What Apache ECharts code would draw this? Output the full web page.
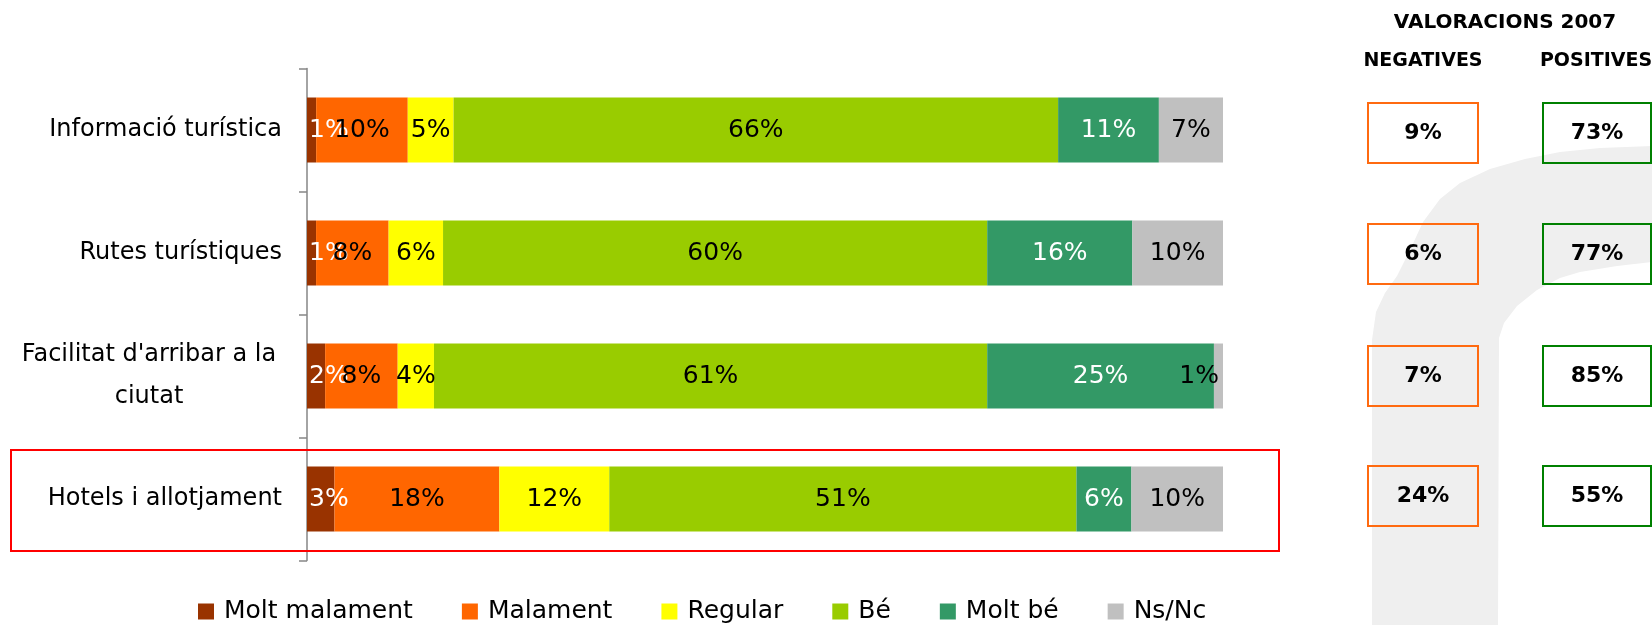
<!DOCTYPE html>
<html><head><meta charset="utf-8">
<script src="https://cdn.jsdelivr.net/npm/echarts@6/dist/echarts.min.js"></script>
<style>html,body{margin:0;padding:0;background:#fff}#c{width:1652px;height:625px}</style>
</head><body><div id="c"></div>
<script>
// ---- data ----
const categories = ["Informació turística", "Rutes turístiques", "Facilitat d'arribar a la\nciutat", "Hotels i allotjament"];
const seriesNames = ["Molt malament", "Malament", "Regular", "Bé", "Molt bé", "Ns/Nc"];
const moltMalament = [1, 1, 2, 3];
const malament = [10, 8, 8, 18];
const regular = [5, 6, 4, 12];
const be = [66, 60, 61, 51];
const moltBe = [11, 16, 25, 6];
const nsNc = [7, 10, 1, 10];
const negatives = [9, 6, 7, 24];
const positives = [73, 77, 85, 55];
const panelTitle = "VALORACIONS 2007";
const negTitle = "NEGATIVES";
const posTitle = "POSITIVES";
const highlighted = "Hotels i allotjament";

// ---- styling ----
const FONT = '"DejaVu Sans", "Noto Sans", sans-serif';
const colors = ["#993300", "#FF6600", "#FFFF00", "#99CC00", "#339966", "#C0C0C0"];
const labelColors = ["#fff", "#000", "#000", "#000", "#fff", "#000"];
const raw = [moltMalament, malament, regular, be, moltBe, nsNc];
const totals = categories.map((_, i) => raw.reduce((s, arr) => s + arr[i], 0));

const series = raw.map((arr, si) => ({
  name: seriesNames[si],
  type: 'bar',
  stack: 'total',
  barWidth: 65,
  itemStyle: { color: colors[si] },
  label: {
    show: true,
    position: si === 0 ? 'insideLeft' : 'inside',
    distance: 2,
    color: labelColors[si],
    fontFamily: FONT,
    fontSize: 25,
    formatter: p => raw[p.seriesIndex][p.dataIndex] + '%'
  },
  data: arr.map((v, i) => {
    const share = v / totals[i] * 100;
    const item = { value: share };
    if (si === raw.length - 1 && share < 3) {
      item.label = { position: 'insideRight', distance: 4 };
    }
    return item;
  })
}));

const chart = echarts.init(document.getElementById('c'), null, { renderer: 'canvas' });
chart.setOption({
  animation: false,
  textStyle: { fontFamily: FONT },
  grid: { left: 307, right: 429, top: 68.5, bottom: 64.5, containLabel: false },
  xAxis: { type: 'value', min: 0, max: 100, show: false },
  yAxis: {
    type: 'category',
    inverse: true,
    data: categories,
    axisLine: { show: true, lineStyle: { color: '#868686', width: 1.5 } },
    axisTick: { show: true, length: 8, lineStyle: { color: '#868686', width: 1.5 } },
    axisLabel: {
      margin: 25,
      color: '#000',
      fontFamily: FONT,
      fontSize: 24,
      formatter: v => v.indexOf('\n') >= 0 ? v.split('\n').map(s => '{c|' + s + '}').join('\n') : v,
      rich: { c: { width: 266, align: 'center', fontFamily: FONT, fontSize: 24, lineHeight: 42, color: '#000' } }
    }
  },
  legend: {
    data: seriesNames,
    left: 193,
    top: 594,
    icon: 'rect',
    itemWidth: 16,
    itemHeight: 16,
    itemGap: 49,
    textStyle: { fontFamily: FONT, fontSize: 25, color: '#000', padding: [0, 0, 0, 5] }
  },
  series: series
});

// ---- watermark shape (decorative background) ----
const wm = [
  [1372, 625], [1372, 340], [1376, 312], [1385, 293], [1397, 276], [1410, 250], [1423, 222],
  [1440, 199], [1460, 183], [1490, 169], [1525, 159], [1560, 152], [1600, 148], [1652, 146],
  [1652, 262], [1617, 266], [1580, 272], [1560, 278], [1537, 290], [1517, 306], [1504, 323],
  [1499, 338], [1498, 625]
];

// ---- side panel & annotations ----
const graphics = [];
graphics.push({ type: 'polygon', z: -10, silent: true, shape: { points: wm }, style: { fill: '#EFEFEF' } });
const boldFont = 'bold 20px ' + FONT;
graphics.push({ type: 'text', x: 1505, y: 23, style: { text: panelTitle, font: boldFont, fill: '#000', align: 'center', verticalAlign: 'middle' } });
graphics.push({ type: 'text', x: 1423, y: 61, style: { text: negTitle, font: 'bold 19px ' + FONT, fill: '#000', align: 'center', verticalAlign: 'middle' } });
graphics.push({ type: 'text', x: 1596, y: 61, style: { text: posTitle, font: 'bold 19px ' + FONT, fill: '#000', align: 'center', verticalAlign: 'middle' } });

const boxShift = [3, 1, 0, -3];
categories.forEach((c, i) => {
  const cy = chart.convertToPixel({ yAxisIndex: 0 }, c) + boxShift[i];
  graphics.push({ type: 'rect', shape: { x: 1368, y: cy - 30, width: 110, height: 60 }, style: { fill: 'none', stroke: '#FF6A10', lineWidth: 2 } });
  graphics.push({ type: 'text', x: 1423, y: cy, style: { text: negatives[i] + '%', font: 'bold 22px ' + FONT, fill: '#000', align: 'center', verticalAlign: 'middle' } });
  graphics.push({ type: 'rect', shape: { x: 1543, y: cy - 30, width: 108, height: 60 }, style: { fill: 'none', stroke: '#008000', lineWidth: 2 } });
  graphics.push({ type: 'text', x: 1597, y: cy, style: { text: positives[i] + '%', font: 'bold 22px ' + FONT, fill: '#000', align: 'center', verticalAlign: 'middle' } });
});
categories.forEach(c => {
  if (c === highlighted) {
    const cy = chart.convertToPixel({ yAxisIndex: 0 }, c);
    graphics.push({ type: 'rect', z: 100, shape: { x: 11, y: cy - 49, width: 1268, height: 101 }, style: { fill: 'none', stroke: '#FF0000', lineWidth: 2 } });
  }
});
chart.setOption({ graphic: graphics });
</script>
</body></html>
